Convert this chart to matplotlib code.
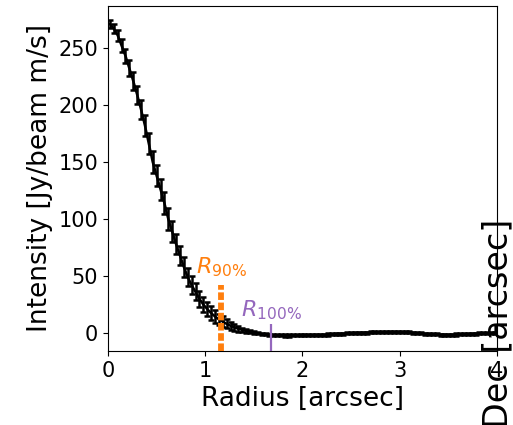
import numpy as np
import matplotlib
matplotlib.use("Agg")
import matplotlib.pyplot as plt

# Azimuthally averaged radial profile (0.04" sampling)
radius = np.arange(0.02, 4.0, 0.04)
intensity = [
    271, 267, 261, 252, 243, 232, 221, 209, 196, 182,
    166, 150, 138, 126, 114, 100, 89, 78, 68, 58,
    49, 42, 36, 30, 25, 21, 17.5, 14.5, 12, 10,
    8, 6.3, 4.9, 3.7, 2.7, 1.8, 1.0, 0.4, -0.2, -0.7,
    -1.1, -1.5, -1.8, -2.0, -2.1, -2.2, -2.2, -2.1, -2.0, -1.9,
    -1.8, -1.7, -1.7, -1.6, -1.6, -1.5, -1.3, -1.1, -0.9, -0.7,
    -0.5, -0.3, -0.1, 0.1, 0.2, 0.3, 0.4, 0.5, 0.6, 0.7,
    0.8, 0.9, 1.0, 1.0, 1.0, 0.9, 0.8, 0.6, 0.3, 0.0,
    -0.3, -0.6, -0.8, -1.0, -1.2, -1.4, -1.5, -1.5, -1.4, -1.3,
    -1.1, -0.9, -0.8, -0.6, -0.5, -0.4, -0.3, -0.2, -0.1, 0.0,
]
intensity_err = [
    3.5, 4.0, 5.0, 5.5, 6.0, 7.0, 7.5, 8.0, 8.5, 9.0,
    9.0, 9.5, 9.5, 9.5, 9.5, 9.5, 9.0, 9.0, 8.5, 8.5,
    8.0, 8.0, 7.5, 7.0, 7.0, 6.5, 6.0, 5.5, 5.0, 4.5,
    4.0, 3.5, 3.0, 2.5, 2.0, 1.6, 1.3, 1.0,
] + [0.9] * 62

# Characteristic radii and marker heights
r90 = 1.165
r90_top = 42
r100 = 1.68
r100_top = 8

ymin, ymax = -15.8, 286.8

fig = plt.figure(figsize=(5.13, 4.25), dpi=100)
ax = fig.add_axes([0.2105, 0.1741, 0.9688 - 0.2105, 0.9859 - 0.1741])

ax.errorbar(radius, intensity, yerr=intensity_err, fmt='-', color='black',
            lw=1.8, elinewidth=1.8, capsize=2.2, capthick=1.8, zorder=2)

ax.vlines(r90, ymin, r90_top, color='C1', lw=4.2,
          linestyles=[(0, (1.3, 0.45))], zorder=3)
ax.vlines(r100, ymin, r100_top, color='C4', lw=1.6, zorder=3)

ax.text(r90, r90_top + 5, r'$R_{90\%}$', color='C1', fontsize=16,
        ha='center', va='bottom')
ax.text(r100, r100_top + 2, r'$R_{100\%}$', color='C4', fontsize=16,
        ha='center', va='bottom')

ax.set_xlim(0, 4)
ax.set_ylim(ymin, ymax)
ax.set_xticks([0, 1, 2, 3, 4])
ax.set_yticks([0, 50, 100, 150, 200, 250])
ax.tick_params(labelsize=15)
ax.set_xlabel('Radius [arcsec]', fontsize=19)
ax.set_ylabel('Intensity [Jy/beam m/s]', fontsize=19)

# Label of the neighbouring map panel
fig.text(0.971, 0.24, 'Dec [arcsec]', rotation=90, fontsize=24,
         ha='center', va='center')

fig.savefig('out.png', dpi=100)
